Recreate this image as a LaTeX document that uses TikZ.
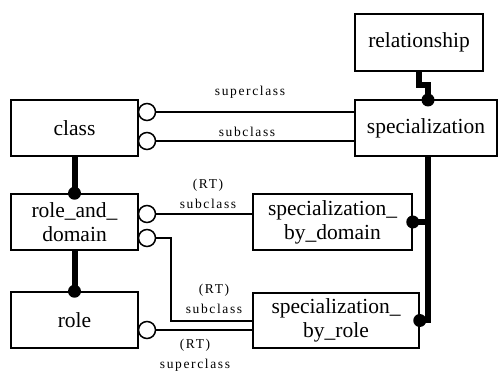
\documentclass[tikz,border=0pt]{standalone}
\usepackage{fontspec}
\setmainfont{Liberation Serif}
\newfontfamily\lblfont[LetterSpace=12]{Liberation Serif}
\begin{document}
\begin{tikzpicture}[x=1pt,y=-1pt,
  ent/.style={draw, line width=1.5pt, minimum height=56pt, inner sep=2pt,
    font=\fontsize{21.5}{24}\selectfont, align=center},
  oc/.style={circle, draw, fill=white, line width=1.5pt, minimum size=17pt, inner sep=0pt},
  thinln/.style={line width=1.5pt},
  thickln/.style={line width=6pt},
  lbl/.style={font=\lblfont\fontsize{13.5}{20}\selectfont, align=center, inner sep=0pt}]
\useasboundingbox (0,0) rectangle (498,371);
% entities
\node[ent, minimum width=127pt] (class) at (74.5,128) {class};
\node[ent, minimum width=128pt, minimum height=57pt] (relationship) at (419,42.5) {relationship};
\node[ent, minimum width=142pt] (spec) at (426,128) {specialization};
\node[ent, minimum width=127pt] (rad) at (74.5,222) {role\_and\_\\domain};
\node[ent, minimum width=127pt] (role) at (74.5,320) {role};
\node[ent, minimum width=159pt] (sbd) at (332.5,222) {specialization\_\\by\_domain};
\node[ent, minimum width=166pt, minimum height=55pt] (sbr) at (336,320.5) {specialization\_\\by\_role};
% open circles
\node[oc] (c1) at (147,112) {};
\node[oc] (c2) at (147,141) {};
\node[oc] (c3) at (147,214) {};
\node[oc] (c4) at (147,238) {};
\node[oc] (c5) at (147,330) {};
% thin connectors
\draw[thinln] (c1.east) -- (c1.east -| spec.west);
\draw[thinln] (c2.east) -- (c2.east -| spec.west);
\draw[thinln] (c3.east) -- (c3.east -| sbd.west);
\coordinate (b4) at (171,321);
\draw[thinln] (c4.east) -| (b4) -- (b4 -| sbr.west);
\draw[thinln] (c5.east) -- (c5.east -| sbr.west);
% thick connectors
\draw[thickln] (class.south) -- (rad.north);
\fill (rad.north) circle (6.5pt);
\draw[thickln] (rad.south) -- (role.north);
\fill (role.north) circle (6.5pt);
\coordinate (rj) at (428,85);
\coordinate (sp1) at (428,100);
\draw[thickln] (relationship.south) |- (rj) -- (sp1);
\fill (sp1) circle (6.5pt);
\coordinate (sp2) at (428,156);
\draw[thickln] (sp2) |- (sbd.east);
\draw[thickln] (sp2) |- (sbr.east);
\fill (sbd.east) circle (6.5pt);
\fill (sbr.east) circle (6.5pt);
% labels
\node[lbl] (l1) at (250,92) {superclass};
\node[lbl] (l2) at (247,132) {subclass};
\node[lbl] (l3) at (208,194) {(RT)\\subclass};
\node[lbl] (l4) at (214,299) {(RT)\\subclass};
\node[lbl] (l5) at (195,355) {(RT)\\superclass};
\end{tikzpicture}
\end{document}
